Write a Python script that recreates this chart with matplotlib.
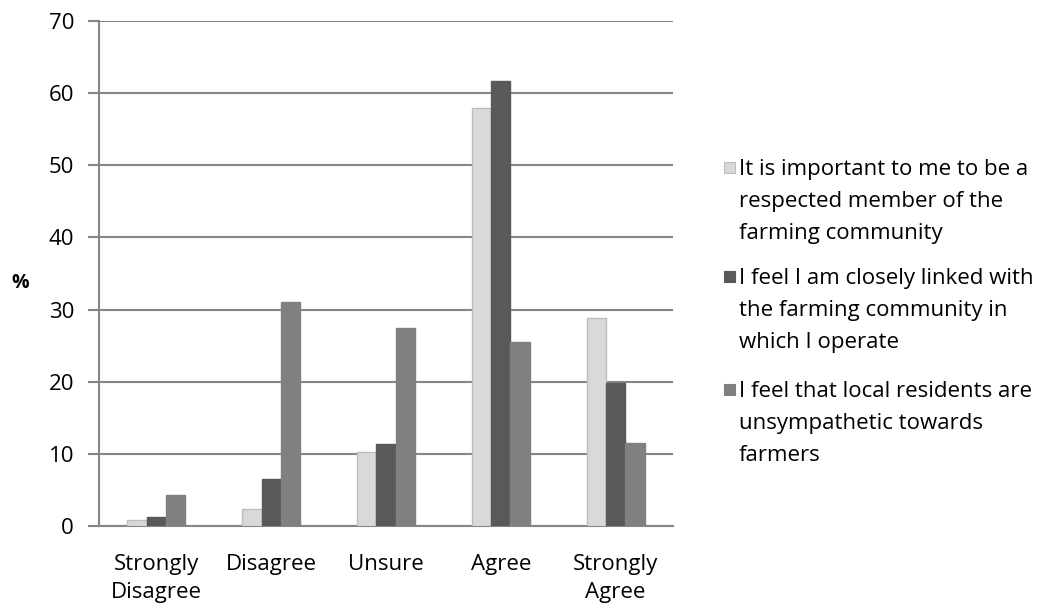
import numpy as np
import matplotlib
matplotlib.use('Agg')
import matplotlib.pyplot as plt
from matplotlib.patches import Rectangle

plt.rcParams['font.family'] = ['Open Sans', 'DejaVu Sans']
plt.rcParams['font.size'] = 16

categories = ['Strongly\nDisagree', 'Disagree', 'Unsure', 'Agree', 'Strongly\nAgree']
series_names = ['It is important to me to be a\nrespected member of the\nfarming community',
                'I feel I am closely linked with\nthe farming community in\nwhich I operate',
                'I feel that local residents are\nunsympathetic towards\nfarmers']
respected = [0.9, 2.3, 10.2, 57.9, 28.9]
linked = [1.2, 6.5, 11.4, 61.7, 19.8]
unsympathetic = [4.3, 31.1, 27.5, 25.5, 11.5]
y_ticks = [0, 10, 20, 30, 40, 50, 60, 70]

colors = ['#d9d9d9', '#595959', '#808080']
edges = ['#bdbdbd', '#595959', '#808080']
grid_col = '#868686'

fig = plt.figure(figsize=(10.57, 6.06), dpi=100)
ax = fig.add_axes([99/1057, 80/606, 574/1057, 505/606])

x = np.arange(len(categories))
w = 0.168
for i, vals in enumerate([respected, linked, unsympathetic]):
    ax.bar(x + (i - 1) * w, vals, width=w, color=colors[i], edgecolor=edges[i],
           linewidth=1.0, zorder=3)

ax.set_xlim(-0.5, len(categories) - 0.5)
ax.set_ylim(0, 70)
ax.set_yticks(y_ticks)
ax.set_xticks(x)
ax.set_xticklabels(categories, linespacing=1.45)
ax.yaxis.grid(True, color=grid_col, linewidth=1.5, zorder=0)
ax.set_axisbelow(True)

for s in ['top', 'right']:
    ax.spines[s].set_visible(False)
ax.spines['left'].set_color(grid_col)
ax.spines['left'].set_linewidth(1.5)
ax.spines['bottom'].set_color(grid_col)
ax.spines['bottom'].set_linewidth(1.5)
ax.tick_params(axis='y', direction='out', length=8, width=1.5, color=grid_col, pad=10, labelsize=16)
ax.tick_params(axis='x', length=0, pad=20, labelsize=16)

fig.text(11/1057, 1 - 283/606, '%', fontsize=14, fontweight='bold', ha='left', va='center')

# legend drawn by hand so the wrapped labels sit like the original
top_lines = [167, 276, 389]
for i, name in enumerate(series_names):
    ycen = top_lines[i]
    fig.patches.append(Rectangle((724/1057, 1 - (ycen + 6)/606), 11/1057, 11/606,
                                 transform=fig.transFigure, facecolor=colors[i],
                                 edgecolor=edges[i], linewidth=0.8))
    fig.text(739/1057, 1 - (ycen - 8)/606, name, fontsize=16, ha='left', va='top',
             linespacing=1.68)

fig.savefig('out.png', dpi=100, facecolor='white')
